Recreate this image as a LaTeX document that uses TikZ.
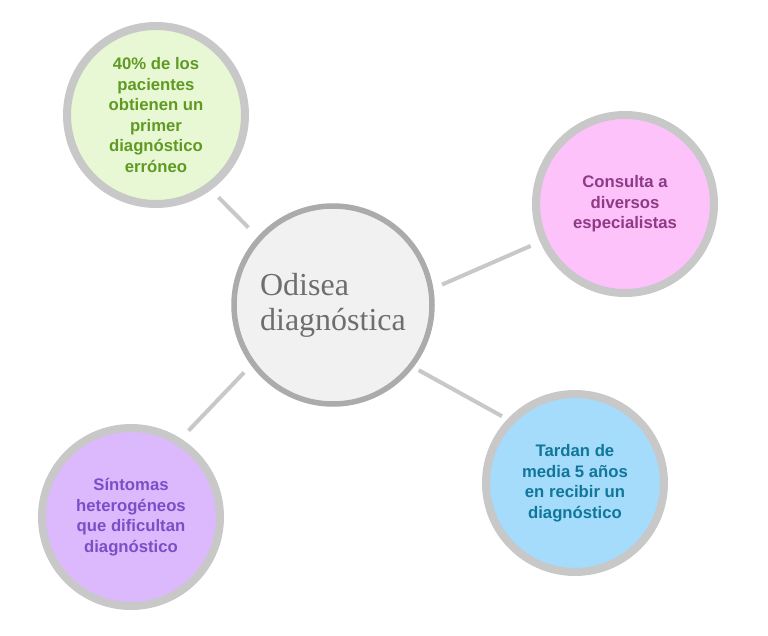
\documentclass[tikz,border=0pt]{standalone}
\usepackage{fontspec}
\setmainfont{Liberation Serif}
\newfontfamily\satfont{Liberation Sans}
\definecolor{ringgray}{HTML}{C8C8C8}
\definecolor{centerring}{HTML}{ABABAB}
\definecolor{centerfill}{HTML}{F1F1F1}
\definecolor{centertext}{HTML}{6E6E6E}
\definecolor{linegray}{HTML}{C8C8C8}
\definecolor{gfill}{HTML}{E8F8D4}
\definecolor{gtext}{HTML}{5F9A22}
\definecolor{pfill}{HTML}{FDC2FA}
\definecolor{ptext}{HTML}{8E3A86}
\definecolor{bfill}{HTML}{A5DBFB}
\definecolor{btext}{HTML}{11779A}
\definecolor{ufill}{HTML}{DCB9FD}
\definecolor{utext}{HTML}{7C4DC6}
\begin{document}
\begin{tikzpicture}[x=1pt,y=-1pt,
  sat/.style={circle,draw=ringgray,line width=8pt,minimum size=178pt,inner sep=0pt,outer sep=0pt,
    align=center,font=\satfont\bfseries\fontsize{16.7pt}{20.5pt}\selectfont},
  hub/.style={circle,draw=centerring,fill=centerfill,line width=5.5pt,minimum size=198pt,inner sep=0pt,outer sep=0pt,
    align=left,text=centertext,font=\fontsize{32pt}{35pt}\selectfont},
  link/.style={draw=linegray,line width=4pt}]
\useasboundingbox (0,0) rectangle (768,636);
\fill[white] (0,0) rectangle (768,636);
\node[hub] (c) at (333,305) {Odisea\\diagnóstica};
\node[sat,fill=gfill,text=gtext] (g) at (156,115) {40\% de los\\pacientes\\obtienen un\\primer\\diagnóstico\\erróneo};
\node[sat,fill=pfill,text=ptext] (p) at (625,204) {Consulta a\\diversos\\especialistas};
\node[sat,fill=bfill,text=btext] (b) at (575,483) {Tardan de\\media 5 años\\en recibir un\\diagnóstico};
\node[sat,fill=ufill,text=utext] (u) at (131,517) {Síntomas\\heterogéneos\\que dificultan\\diagnóstico};
\draw[link,shorten <=15.8pt,shorten >=14.6pt] (c.138.7) -- (g.-54.1);
\draw[link,shorten <=12.3pt,shorten >=14.2pt] (c.9.8) -- (p.204);
\draw[link,shorten <=8.8pt,shorten >=10.3pt] (c.-38.4) -- (b.136.8);
\draw[link,shorten <=12.8pt,shorten >=15.1pt] (c.216) -- (u.58.8);
\end{tikzpicture}
\end{document}
